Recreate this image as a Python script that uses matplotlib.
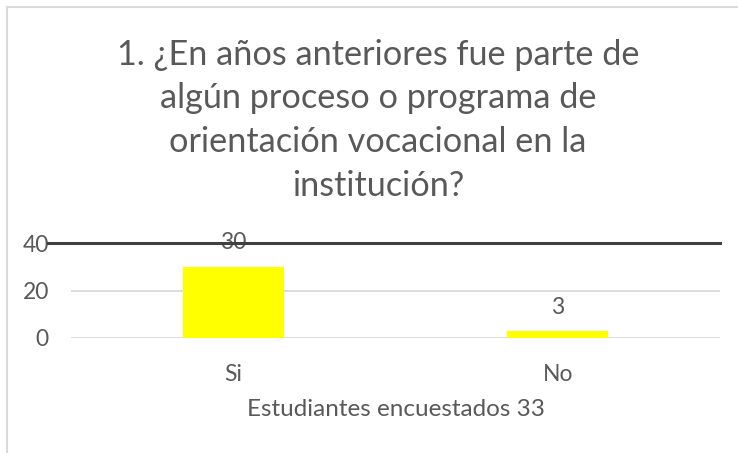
import matplotlib
matplotlib.use("Agg")
import matplotlib.pyplot as plt
from matplotlib.lines import Line2D

# datos del gráfico
categorias = ["Si", "No"]
valores = [30, 3]
titulo = ["1. ¿En años anteriores fue parte de",
          "algún proceso o programa de",
          "orientación vocacional en la",
          "institución?"]
etiqueta_x = "Estudiantes encuestados 33"
marcas_y = [0, 20, 40]

gris_texto = "#595959"
plt.rcParams["font.family"] = ["Lato", "DejaVu Sans"]

fig = plt.figure(figsize=(7.38, 4.53), dpi=100)
W, H = 738, 453
ax = fig.add_axes([71 / W, 1 - 338 / H, (720 - 71) / W, (338 - 243) / H])

x = range(len(categorias))
barras = ax.bar(x, valores, width=0.31, color="#FFFF00", zorder=3)
ax.set_xlim(-0.5, len(categorias) - 0.5)
ax.set_ylim(0, 40)
ax.set_yticks(marcas_y)
ax.set_xticks(list(x))
ax.set_xticklabels(categorias)

# rejilla
for v in marcas_y[:-1]:
    ax.axhline(v, color="#D9D9D9", lw=1.3, zorder=1)
ax.axhline(40, xmin=-0.036, xmax=1, color="#404040", lw=2.2, clip_on=False, zorder=4)

for s in ax.spines.values():
    s.set_visible(False)
ax.tick_params(axis="both", length=0, labelsize=16.5, labelcolor=gris_texto)
ax.tick_params(axis="y", pad=16)
ax.tick_params(axis="x", pad=18.5)

# etiquetas de valores
for xi, v in zip(x, valores):
    ax.annotate(str(v), (xi, v), xytext=(0, 12.5), textcoords="offset points",
                ha="center", va="baseline", fontsize=16.5, color=gris_texto, zorder=2)

ax.set_xlabel(etiqueta_x, fontsize=17.5, color=gris_texto, labelpad=10.5)

# título en cuatro líneas
for i, linea in enumerate(titulo):
    fig.text(378 / W, 1 - (65 + 43.5 * i) / H, linea, ha="center", va="baseline",
             fontsize=24.7, color=gris_texto)

# borde del área del gráfico
fig.add_artist(Line2D([7 / W, 7 / W], [0, 1 - 7 / H], color="#D9D9D9", lw=1.5))
fig.add_artist(Line2D([7 / W, 1], [1 - 7 / H, 1 - 7 / H], color="#D9D9D9", lw=1.5))

fig.savefig("out.png", dpi=100)
